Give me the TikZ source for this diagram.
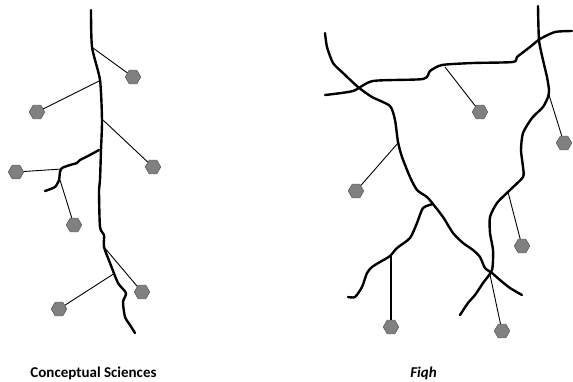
\documentclass[tikz,border=0pt]{standalone}
\usepackage{fontspec}
\setmainfont{Carlito}
\usetikzlibrary{shapes.geometric}
\begin{document}
\begin{tikzpicture}[x=1pt,y=-1pt,
  road/.style={line width=2.4pt,line join=round,line cap=round},
  link/.style={line width=0.9pt},
  hexa/.style={regular polygon,regular polygon sides=6,minimum size=15.5pt,inner sep=0pt,
    fill=hexfill,draw=hexline,line width=0.6pt},
  lbl/.style={font=\fontsize{15}{17}\selectfont\bfseries}]
\definecolor{hexfill}{HTML}{808080}
\definecolor{hexline}{HTML}{5E5E5E}
\useasboundingbox (0,0) rectangle (573,381);
% ---------- left tree ----------
\draw[road] plot[smooth,tension=0.4] coordinates {(91,10) (92,47) (100,80) (102,120) (101,150) (100,180) (99,190) (100,227) (104,235) (104,247) (110,263) (118,283) (126,293) (123,302) (125,317) (130,325) (135,333)};
\draw[road] plot[smooth,tension=0.4] coordinates {(99,150) (88,156) (80,160) (77,163) (70,165) (62,168) (60,172) (59,180) (55,187) (45,191)};
\coordinate (l1) at (93,48);
\coordinate (l2) at (101,80);
\coordinate (l3) at (103,120);
\coordinate (l4) at (62,169);
\coordinate (l5) at (60,180);
\coordinate (l6) at (104,247);
\coordinate (l7) at (115,273);
\node[hexa] (h1) at (133,77) {};
\node[hexa] (h2) at (37,112) {};
\node[hexa] (h3) at (153,167) {};
\node[hexa] (h4) at (16,172) {};
\node[hexa] (h5) at (74,225) {};
\node[hexa] (h6) at (142,292) {};
\node[hexa] (h7) at (59,309) {};
\draw[link] (l1) -- (h1);
\draw[link] (l2) -- (h2);
\draw[link] (l3) -- (h3);
\draw[link] (l4) -- (h4);
\draw[link] (l5) -- (h5);
\draw[link] (l6) -- (h6);
\draw[link] (l7) -- (h7);
% ---------- right tree ----------
\draw[road] plot[smooth,tension=0.4] coordinates {(325,33) (327,47) (333,63) (343,73) (358,87) (372,97) (390,106) (395,120) (398,142) (402,157) (410,177) (417,190) (427,197) (433,204) (443,217) (453,233) (463,243) (473,250) (480,257) (485,268) (492,273) (500,280) (510,288) (522,295)};
\draw[road] plot[smooth,tension=0.4] coordinates {(325,95) (353,91) (373,81) (423,79) (430,71) (442,65) (473,63) (513,62) (517,57) (530,47) (540,39) (555,32) (572,31)};
\draw[road] plot[smooth,tension=0.4] coordinates {(538,6) (539,40) (543,60) (547,77) (549,90) (548,97) (543,107) (532,118) (523,133) (521,150) (523,167) (523,177) (510,190) (497,203) (490,217) (490,233) (493,250) (492,270) (483,283) (475,295) (468,303) (460,315)};
\draw[road] plot[smooth,tension=0.4] coordinates {(433,204) (423,208) (417,223) (410,238) (397,248) (390,256) (380,262) (372,267) (367,273) (362,287) (355,297) (348,297)};
\coordinate (r1) at (445,67);
\coordinate (r2) at (549,95);
\coordinate (r3) at (398,143);
\coordinate (r4) at (508,192);
\coordinate (r5) at (391,256);
\coordinate (r6) at (489,270);
\node[hexa] (k1) at (480,112) {};
\node[hexa] (k2) at (564,143) {};
\node[hexa] (k3) at (356,191) {};
\node[hexa] (k4) at (522,246) {};
\node[hexa] (k5) at (391,327) {};
\node[hexa] (k6) at (502,331) {};
\draw[link] (r1) -- (k1);
\draw[link] (r2) -- (k2);
\draw[link] (r3) -- (k3);
\draw[link] (r4) -- (k4);
\draw[line width=1.6pt] (r5) -- (k5);
\draw[link] (r6) -- (k6);
% ---------- labels ----------
\node[lbl] (t1) at (93.5,373) {Conceptual Sciences};
\node[lbl,font=\fontsize{15}{17}\selectfont\bfseries\itshape] (t2) at (423.5,373) {Fiqh};
\end{tikzpicture}
\end{document}
